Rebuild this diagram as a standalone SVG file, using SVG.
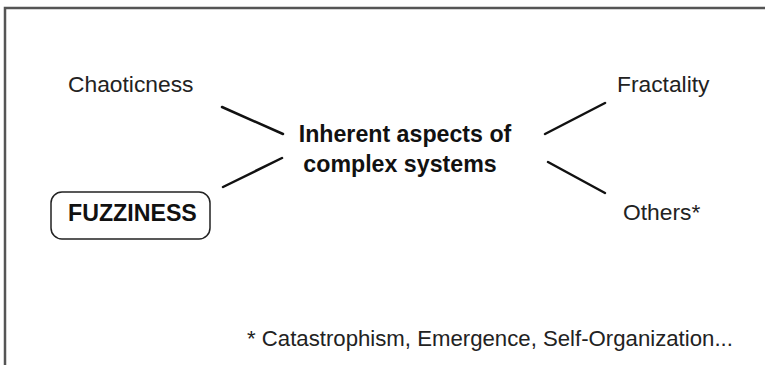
<svg xmlns="http://www.w3.org/2000/svg" width="765" height="365" viewBox="0 0 765 365">
<style>
.t{font-family:"Liberation Sans",Arial,sans-serif;font-size:22.8px;fill:#222}
.f{font-family:"Liberation Sans",Arial,sans-serif;font-size:22.2px;fill:#222}
.b{font-family:"Liberation Sans",Arial,sans-serif;font-size:23.2px;font-weight:bold;fill:#111}
.c{stroke:#111;stroke-width:2.5;fill:none;stroke-linecap:round}
</style>
<rect x="0" y="0" width="765" height="365" fill="#fff"/>
<path d="M5 366 V8 H766" fill="none" stroke="#555" stroke-width="2.5"/>
<g id="center"><text class="b" x="405" y="142" text-anchor="middle">Inherent aspects of</text><text class="b" x="400" y="172" text-anchor="middle">complex systems</text></g>
<g id="chaoticness"><text class="t" x="68" y="92">Chaoticness</text></g>
<g id="fuzziness"><rect x="51" y="192" width="159" height="47" rx="11" fill="#fff" stroke="#222" stroke-width="1.5"/><text class="b" x="68" y="221">FUZZINESS</text></g>
<g id="fractality"><text class="t" x="617" y="92">Fractality</text></g>
<g id="others"><text class="t" x="623" y="220">Others*</text></g>
<g id="connectors">
<line class="c" x1="222" y1="107" x2="283" y2="134"/>
<line class="c" x1="223" y1="187" x2="282" y2="158"/>
<line class="c" x1="545" y1="134" x2="605" y2="103"/>
<line class="c" x1="548" y1="162" x2="605" y2="193"/>
</g>
<g id="footnote"><text class="f" x="247" y="346">* Catastrophism, Emergence, Self-Organization...</text></g>
</svg>
